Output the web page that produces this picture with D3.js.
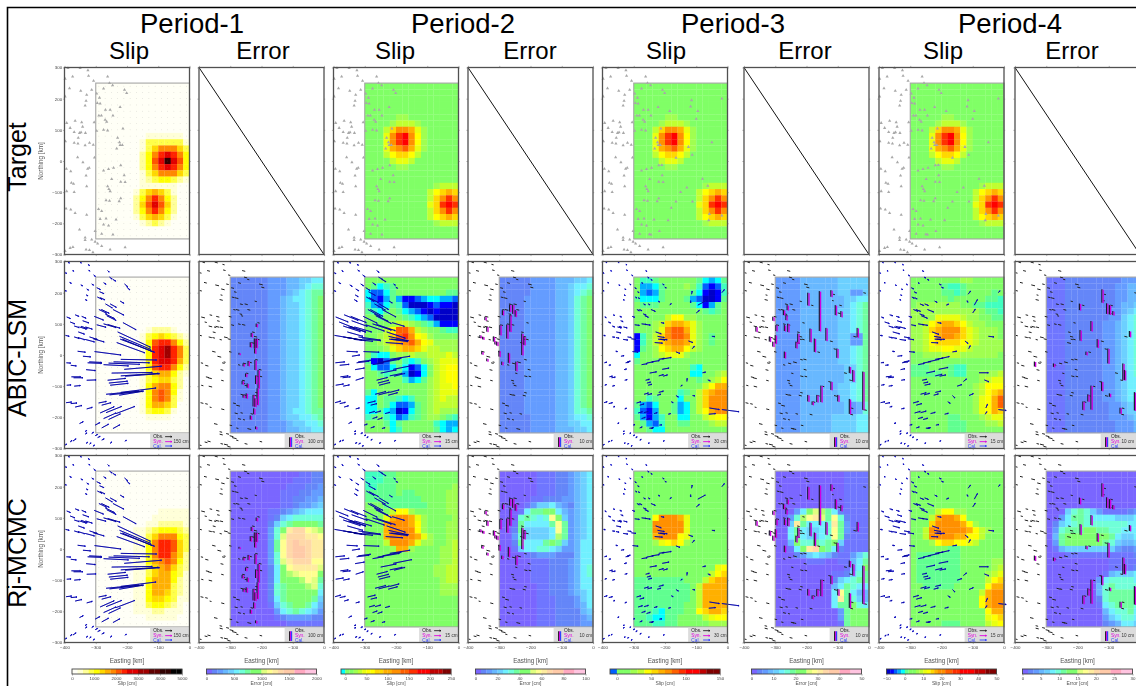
<!DOCTYPE html>
<html><head><meta charset="utf-8">
<script src="https://cdn.jsdelivr.net/npm/d3@7"></script>
<style>html,body{margin:0;padding:0;background:#fff;overflow:hidden}svg{display:block}text{font-family:"Liberation Sans",Arial,sans-serif}</style>
</head><body><svg id="c" width="1136" height="686"></svg>
<script>
// ---------- labels ----------
const periods=["Period-1","Period-2","Period-3","Period-4"];
const rowNames=["Target","ABIC-LSM","Rj-MCMC"];
const slipLegend=["150 cm","15 cm","30 cm","15 cm"];
const errLegend=["100 cm","10 cm","10 cm","10 cm"];
// ---------- colour levels ----------
const slipHotKeys="0123456789ABCDE".split("");
const slipHotCols=["#fffff6","#ffffd8","#ffff98","#ffff48","#ffff00","#ffd800","#ffb000","#ff8800","#ff5500","#ff2200","#e00000","#a00000","#600000","#300000","#000000"];
const rainbowKeys="abcdefghijklmnopqrst".split("");
const rainbowCols=["#0000c8","#0000ff","#0060ff","#00b0ff","#00ffff","#40ffc0","#60ff90","#80ff66","#a0ff50","#c0ff30","#e8ff10","#ffff00","#ffd800","#ffb000","#ff9000","#ff6000","#ff3000","#ff0000","#c00000","#800000"];
const errKeys="0123456789ABCDEFGH".split("");
const errCols=["#7a66ff","#6f76ff","#6486f8","#649cff","#68b8ff","#6cd0ff","#70f0ff","#70ffd8","#70ffa0","#80ff70","#b0ff70","#e0ff80","#ffff90","#ffeca0","#ffd8a8","#ffcaa8","#ffa8c0","#ffc4e0"];
// ---------- slip and error fields: 25 rows (north to south), 15 columns (west to east) ----------
const targetP1="000000000000000 000000000000000 000000000000000 000000000000000 000000000000000 000000000000000 000000000000000 000000000000000 000000001111110 000000013333331 000000013577753 00000002479A974 0000000248ADA84 00000002479A974 000000013577753 000000012344321 000000011111100 000000135653100 000000247974200 000000258A85200 000000247974200 000000135653100 000000012321000 000000000000000 000000000000000".split(" ");
const targetRest="hhhhhhhhhhhhhhh hhhhhhhhhhhhhhh hhhhhhhhhhhhhhh hhhhhhhhhhhhhhh hhhhhhhhhhhhhhh hhhhhiihhhhhhhh hhhhijjjihhhhhh hhhjmoonkihhhhh hhhkoqrolihhhhh hhhkoqrolihhhhh hhhknopnkihhhhh hhhjlmmljhhhhhh hhhhjkkjhhhhhhh hhhhhiihhhhhhhh hhhhhhhhhhhhhhh hhhhhhhhhhhhhhh hhhhhhhhhhhijjj hhhhhhhhhhjlmnm hhhhhhhhhhjmoqo hhhhhhhhhhkmqrq hhhhhhhhhhjmoqo hhhhhhhhhhjlmnm hhhhhhhhhhhijjj hhhhhhhhhhhhhhh hhhhhhhhhhhhhhh".split(" ");
const abicSlipP1="000000000000000 000000000000000 000000000000000 000000000000000 000000000000000 000000000000000 000000000000000 000000000000000 000000001222100 000000013454321 000000014899742 0000000149AB973 0000000149AB973 0000000149AA963 000000014899742 000000013566421 000000013455320 000000014677420 000000014787410 000000014787310 000000014665300 000000013443100 000000001111000 000000000000000 000000000000000".split(" ");
const rjSlipP1="000000000000000 000000000000000 000000000000000 000000000000000 000000000000000 000000000000000 000000000011111 000000000111111 000000001122221 000000112344432 000000113577743 000000114799853 000000114799853 000000114799752 000000114678742 000000113567532 000000113566431 000000114666421 000000114666321 000000114665321 000000114554311 000000113443210 000000111221110 000000001111100 000000000000000".split(" ");
const abicSlipP2="hhhhhhhhhhhhhhh hgefghhhhhhhhhh ecceghhhhhhhhgg ecbdgdbbcdeeddc fdcegfcaaabcbba gfeghgedcbabaaa hhghhhgfedcaaaa hhhhijjihgfdbbb hhhjlppnjihhgff hhijmpqolkihhhh hhijmnopnlkiiii hhhikmnnmkjjiii hfeehiijiijjjkj gbacghfefhijkkk heccegebcehjkll hhgfggdabehjkll hhhhhhfdegijkll hhhhhhhhhhijkkl gehhhhhhhhijkkk eehggfefhhijkjj eehgeccdghijjjj eegedabeghijiii fghfecdfghiihgf hhhgeghhhhhfedd hhhhefhhhhhgede".split(" ");
const rjSlipP2="fffgghhhhhhhhhh fffgghhhhhhhhhh ffggghhhhhhhhhi ggggghgghhhhhii ggggggggghhhhii hhhggggggghhhii hhhhjllihhhhhii hhhknoonkihhhhi hhhnooonlihhhii hhhnoooolihhhii hhhnoooonkihhii hhhjooonkiihhij hhhhinnihhhhiij hhhhhhhhhhhhiij hhhhhhhhhhhhiij hhhhhhhhhhhiijj hhhhhhhhhhhiijj hhhhhhhhhhhhijj hhhhhhhhhhhhiii hhhhhhhhhhhhiii hhhhhhhhhhhhhhh hhhhhhhhhhhhhhh hhhhhhhhhhhhhhh hhhhhhhhhhhhhhh hhhhhhhhhhhhhhh".split(" ");
const abicSlipP3="hffghhhhhhgedeg hddeghhhihfcbcf hdcdghhhhgebabf geeeghhhgdcaabg hggghhhhhgebdgh hhhhhhhhhhhgfgh hhhhhjlliihhhhh hhhijmnnmkihhhh hhhikoppnkihhhh bfhjmoppokihghh bfhjmnoonkihghh bghilmnnljihhhh ehhijkkkihhhhhh ghhhhhhhhhhhhhh hhhhhhhhhfehhhh hhhhhhhhheehhij hhhhhhhhhhghijl hhhhhhhhhhhjlnn hhhhhhhfghjmnoo hhfghhhehhjmooo gdcehhgdehjmooo fcbdhhgdehjlnoo gdbdfhheehhjkll hgdcfhhgghhhijj hhgeehhhhhhhhhh".split(" ");
const rjSlipP3="hhhhhhhhhhhhhhh hhhhhhhhhhhhhhh hhhhhhhhhhhhhhh hhhhhhhhhhhhhhh hhhhhhhhhhhhhhh hhhhhhhhhhhhhhh hhhhhhhhhhhhhhh hhhlooonkhhhhhh hhhoooookhhhhhh hhhoooookhhhhhh hhhnooolkhhhhhh hhhiklmlihhhhhh hhhhhhhhhhhhhhh hhhhhhhhhhhhhhh hhhhhhhhhhhhhhh hhhhhhhhhhhhhkl hhhhhhhhhhhhjlm gggggggghhhjmnn ggggggggghjnnnn ggggggggghjnnnn ggggggggghjnnnn gggggggghhjnnnn gggfeggghhlmnnm ggfeegghhhhjkll gggffgghhhhhiii".split(" ");
const abicSlipP4="hhhhhhhhiihhhhh hhhhhgffghhhhhh hhhhhggfghhhhgh hhhhhhghhhhhggf hiiiiiiihhggfff iiiiiiiiiiihggf iiiikkkkjiihhgg iijlmnnmljiihhh iijmnooomkjiiih iijlnoonmkjiiih iijlmmmmlkjiiii iijkkllkkjiiiii hhiiijjjiiiiiih hhhhhhhhhhhhhhh ggghhhgffhhhhhh ggggghgffhhiiij hhhhhhhhhhhijkk hhhhhhhhhhijlll hhhhhhhhhhijlmn hhhhhhhhhhiklnp hhhhhhhhhhiklnp hhhhhhhhhhiklnm hhhhhhgghhhijkk hhhhhhggghhhiij hhhhhhggghhhhhh".split(" ");
const rjSlipP4="hhhhhhhhhhhhhhh hhhhhhhhhhhhhhh hhhhhhhhhhhhhhh hhhhhhhhhhhhhhh hhhhhhhhhhhhhhh hhhhhhhhhhhhhhh hhhhjlliihhhhhh hhhjnoonlhhhhhh hhhmoooonlihhhh hhjoooooonljihh hhjoooonnlljhhh hhhilmmllkjhhhh hhhhhhgghhhhhhh hggggggghhhhhhh hggggggghhhhhii hggggggghhhhhij hggggggghhhhijk hggggggghhhhjlm hhggggghhhhhlnn hhhhhhhhhhhjnoo hhhhhhhhhhhlnoo hhhhhhhhhhhlnoo hhhhhhhhhhhhlnn hhhhhhhhhhhhklm hhhhhggghhhhjkl".split(" ");
const abicErrP1="222222333445566 222222333445677 222222333456788 222222334566789 222222334556789 222222334556789 222222334556789 222222334556789 222222334556789 222222334556789 222222334556789 222222334556789 222222334556789 222222334556789 222222334556789 222222334556789 222222334556789 222222334556789 222222334556789 222222334556789 222222334556789 222222334566788 222222334556678 222222333455667 222222333445566".split(" ");
const rjErrP1="000000000001122 000000000011122 000000000111223 000000001112233 000000001122334 000000001123345 000000112345666 000000125677777 000000257899998 000000379DEECBA 00000037BEEEDDC 00000038CEFEEDD 00000038CEFFEDD 00000037CEFFEDD 00000037BDEEECC 000000269CDDDDB 000000269ABCCC9 00000026999ACB8 000000278999AB7 000000278999996 000000268999985 000000157899864 000000036787653 000000012333322 000000000111111".split(" ");
const abicErrP2="222223333444556 222223333445667 222223333445678 222233333445789 222233333445789 222233333445789 222233333445789 222233333445789 222233333445789 222233333445789 222233333445789 222233333445789 222233333445789 222233333445789 222233333445789 222233333445789 222233333445789 222233333445789 222233333445789 222233333445789 222233333445789 222233333445778 222223333445667 222223333445566 222223333444556".split(" ");
const rjErrP2="000000111223456 000000111223456 000000111223456 000000111223456 000001122233456 000013556432456 000168899643456 00078767C953456 001866668C83456 002855556C83456 003755556A83456 002866689853466 001566776533466 000012333222466 000001112223466 000001112223467 000001112223467 000001112223466 000000112223466 000000112223456 000000111222356 000000111222346 000000111222245 000000111222234 000000111222233".split(" ");
const abicErrP3="333344444455555 333344444455555 333344444455335 333344444445566 333344444445678 333344444455678 333344444455678 333344444455678 333344444455678 333344444455338 333344444455338 333344444455678 333344444455678 333344444455678 333344444445578 333344444445578 333344444445578 333344444455678 333344444455678 333344444455678 333344444445347 333344444445347 333344444555566 333344444555566 333344444555566".split(" ");
const rjErrP3="000000000001111 000000000001111 000000000001111 000000000001111 000000000001111 000000000001111 000369BA8621111 0037ACDB8C72111 005D86667D83111 006865567C83111 006865567C82111 004977878951111 00169DE98621111 000235654211357 000001110011468 000000000001469 000000000112578 000000000256788 000000000468766 0000000006C8644 0000000006D8754 000000000688976 000000000038999 000000000038999 000000000018999".split(" ");
const abicErrP4="111222222222333 111222222223344 111222222223344 111222222223344 111222222223445 111222222233456 111222222233567 111222222334567 111222222334567 111222222334567 111222222334567 111222222334567 111222222334567 111222222334567 111222222334567 111222222334567 111222222334566 111222222334566 111222222334566 111222222334566 111222222233455 111222222233455 111222222233345 111222222223334 111222222223334".split(" ");
const rjErrP4="000000000000000 000000000000000 000000000000000 000000000000000 000000000000000 000000000000000 000578753111123 003688766665556 025678777777766 037888998877666 048999999986556 038999999875445 014555555553223 000111111111112 000000000011111 000000000011112 000000000145556 000000003677776 000000004787777 000000004788888 000000002788888 000000001678887 000000000467786 000000000356776 000000000234665".split(" ");
// ---------- stations (km) ----------
const stationE=[-389,-350,-325,-398,-374,-323,-262,-307,-384,-348,-313,-256,-246,-275,-208,-201,-398,-329,-297,-288,-331,-334,-295,-286,-222,-269,-254,-290,-282,-270,-265,-245,-393,-366,-345,-305,-382,-369,-342,-347,-333,-352,-356,-397,-369,-357,-320,-334,-308,-230,-224,-222,-215,-233,-275,-262,-213,-297,-358,-304,-394,-380,-341,-326,-321,-331,-275,-259,-243,-220,-209,-249,-378,-371,-329,-262,-258,-220,-206,-393,-369,-254,-220,-267,-256,-225,-395,-380,-366,-329,-291,-281,-235,-267,-286,-275,-259,-352,-302,-281,-245,-334,-334,-313,-302,-294,-281,-382,-373,-398,-331,-320,-309,-254,-206];
const stationN=[298,298,291,264,271,273,271,257,233,225,228,250,243,232,228,218,207,212,216,203,193,178,186,184,173,164,164,146,146,132,126,146,122,129,124,124,106,93,110,92,90,90,74,63,58,56,58,50,52,74,60,51,51,40,100,98,104,97,12,11,-25,-33,-4,-25,-22,-47,-31,-26,-22,-14,-46,-58,-70,-73,-81,-81,-90,-67,-68,-97,-100,-97,-120,-126,-128,-129,-153,-156,-167,-173,-154,-161,-188,-185,-186,-204,-207,-220,-225,-234,-236,-246,-254,-252,-259,-265,-273,-279,-276,-289,-284,-286,-293,-284,-277];
const extraE=[-18,-115,-118,-95,-100,-185,-50,-125,-113,-165,-210,-80,-63,-130,-150,-112,-58,-60,-18,-165,-180,-190,-218,-250];
const extraN=[200,195,175,160,135,160,60,45,20,10,-13,-57,-80,-85,-100,-130,-170,-190,-175,-130,-150,-190,-225,-235];
// ---------- horizontal displacement per period (km on the map) ----------
const p1E=[5,4,5,5,4,4,5,6,6,6,6,8,10,8,10,10,4,6,12,14,6,6,15,15,12,22,20,25,25,30,30,35,12,12,14,30,15,16,20,20,22,22,20,12,16,22,25,30,35,105,100,110,95,90,40,40,42,30,25,85,14,18,25,45,40,30,80,100,115,115,120,130,30,30,30,58,60,120,110,14,20,58,113,105,105,78,18,20,22,18,25,30,60,50,45,40,38,12,15,22,22,5,6,6,8,8,8,6,10,5,5,5,5,5,4];
const p1N=[-3,-3,-4,-2,-2,-4,-5,-5,-3,-3,-4,-6,-6,-5,-9,-9,-2,-4,-6,-6,-3,-3,-7,-7,-7,-13,-11,-12,-12,-15,-15,-18,-5,-5,-6,-12,-6,-5,-7,-7,-7,-7,-7,-3,-5,-7,-8,-8,-10,-49,-42,-42,-40,-33,-12,-12,-23,-8,-3,-11,-1,-2,-2,-2,-2,-3,-4,-4,-3,-2,10,2,0,0,1,6,6,8,8,1,2,6,14,10,12,13,2,2,5,5,5,8,23,20,20,18,18,6,8,12,12,4,4,4,4,4,4,5,7,3,4,4,4,5,4];
const p2E=[5,5,5,6,5,6,8,8,7,8,9,14,14,10,6,6,5,10,14,22,10,10,25,30,10,35,30,40,40,45,50,45,40,45,50,45,50,55,50,50,55,55,50,70,60,60,70,60,60,60,60,60,55,55,60,60,40,60,35,50,30,30,25,40,40,30,35,70,60,65,60,50,25,25,25,35,35,40,35,25,20,35,30,35,35,30,18,18,14,12,25,20,15,18,18,15,15,10,10,12,10,6,6,6,6,5,5,6,5,5,6,6,5,5,5];
const p2N=[-3,-3,-3,-3,-3,-4,-6,-6,-4,-5,-6,-8,-8,-7,-4,-4,-3,-6,-9,-12,-6,-6,-14,-16,-6,-20,-18,-22,-22,-24,-25,-24,-16,-18,-20,-22,-20,-18,-18,-18,-16,-16,-14,-12,-10,-10,-10,-6,-6,-20,-14,-8,-5,-4,-20,-20,-12,-20,-2,-2,3,3,4,5,5,5,6,12,12,10,12,10,3,3,8,9,9,8,9,4,4,9,8,9,9,8,5,4,4,3,6,5,4,5,5,5,5,5,3,4,3,2,2,2,2,2,2,4,3,3,3,3,2,3,3];
const p3E=[3,3,3,3,3,3,4,4,4,4,4,5,5,4,5,5,3,4,5,5,4,4,5,5,5,6,6,8,8,10,12,14,5,5,6,8,8,8,8,8,12,12,15,6,8,10,12,15,15,18,22,22,22,25,15,15,10,15,6,18,8,6,10,10,10,8,18,22,25,18,22,22,10,12,8,12,12,15,14,6,8,12,15,14,14,12,10,12,6,6,14,14,10,14,14,12,12,5,6,8,8,4,4,4,5,5,5,5,4,4,4,4,4,4,4, 8,2,0,24,10,5,10,14,7,13,30,10,8,1,5,8,32,22,55,8,6,8,8,12];
const p3N=[-2,-2,-2,-2,-2,-2,-3,-3,-2,-2,-3,-3,-3,-2,-3,-3,-2,-2,-3,-3,-2,-2,-3,-3,-3,-3,-3,-4,-4,-4,-5,-6,-2,-2,-2,-3,-3,-3,-3,-3,-3,-3,-3,-1,-1,-2,-2,-2,-2,-6,-4,-3,-2,-2,-2,-2,-2,-2,-1,-2,2,1,2,2,2,2,3,4,4,3,4,4,2,2,2,3,3,4,4,2,2,3,4,4,4,3,3,3,2,2,4,4,3,4,4,4,4,2,2,3,3,2,2,2,2,2,2,2,2,2,2,2,2,2,2, 10,10,-8,13,8,5,-1,-5,8,-5,5,2,-3,10,3,-1,-5,2,-7,-5,-3,2,1,1];
const p4E=[3,3,3,3,3,3,5,5,4,4,4,6,6,4,7,7,3,5,8,8,4,4,8,8,8,12,12,15,15,15,20,20,8,10,10,10,15,15,15,15,18,18,22,8,12,14,18,20,20,22,22,22,25,22,18,18,12,15,8,18,10,10,15,18,18,14,20,25,35,25,30,28,18,18,12,15,15,22,20,10,12,18,18,18,18,15,14,15,8,10,18,18,15,18,18,15,15,6,8,10,10,5,5,5,5,5,5,5,5,5,4,4,4,4,4, 5,8,2,10,8,8,18,10,5,14,35,30,15,10,15,14,5,5,25,8,8,12,10,12];
const p4N=[-2,-2,-2,-2,-2,-2,-3,-3,-2,-2,-3,-3,-3,-2,-3,-3,-2,-2,-4,-4,-2,-2,-4,-4,-4,-5,-5,-6,-6,-6,-8,-8,-3,-3,-3,-3,-5,-5,-5,-4,-5,-5,-6,-1,-3,-3,-3,-3,-3,-8,-4,-2,-1,-1,-3,-3,-2,-3,-1,-2,1,1,2,3,3,3,4,5,8,4,6,6,2,2,2,3,3,5,4,2,2,4,4,5,5,4,3,3,2,2,5,5,4,5,5,4,4,2,2,3,3,2,2,2,2,2,2,2,2,2,2,2,2,2,2, 6,10,-6,18,12,3,-2,-8,10,2,8,0,-6,8,5,6,12,8,-3,-8,-5,3,2,1];
// residual horizontal arrows in the error panels (km east)
const residE=[8,10,7,6,9,8,10,7,9,12,8,10,7,9,12,10,7,11,9,8,6,10,8,12,7,9,10,7,11,8,6,9,12,8,10,9,7,11,8,12,10,7,9,6,10,8,12,7,9,8,10,7,9,12,8,10,7,9,11,8,7,10,12,8,6,9,7,10,12,8,9,7,10,12,8,9,6,10,8,7,11,9,8,12,7,10,9,8,6,10,9,12,8,7,10,9,6,11,8,7,12,8,10,9,12,14,7,9,10,6,8,13,10,9,8, 8,6,5,8,9,7,10,9,7,8,10,9,8,6,7,10,8,9,11,7,8,9,8,10];
// vertical displacement bars per period [east, north, length in km]
const barsP1=[[-216,101,11],[-232,71,13],[-222,53,32],[-235,41,16],[-216,53,30],[-221,21,16],[-271,7,6],[-258,-27,9],[-242,-19,16],[-220,-16,32],[-210,-48,59],[-250,-59,11],[-218,-66,27],[-261,-83,11],[-245,-91,14],[-258,-128,9],[-248,-123,16],[-226,-128,37],[-213,-107,53],[-220,-139,27],[-224,-171,19],[-235,-194,13],[-218,-229,9]];
const barsP2=[[-266,162,23],[-256,162,30],[-248,144,21],[-289,144,16],[-265,128,53],[-275,98,45],[-297,96,32],[-227,69,69],[-220,59,27],[-300,14,19],[-270,7,32],[-246,-21,30],[-291,-21,11],[-339,91,16],[-345,123,11],[-352,59,9],[-361,64,9],[-313,45,11],[-307,43,13],[-318,59,16],[-355,11,9],[-339,-11,9]];
const barsP3=[[-195,200,41],[-158,205,128],[-121,208,21],[-107,160,32],[-89,141,19],[-188,85,43],[-137,87,41],[-37,87,30],[-174,53,43],[-227,69,32],[-233,43,21],[-299,64,27],[-270,11,21],[-102,21,30],[-62,-37,21],[-51,-48,37],[-19,-53,123],[-121,-85,27],[-153,-98,53],[-166,-128,23],[-195,-128,21],[-181,-149,11],[-99,-128,21],[-62,-141,48],[-261,160,16],[-273,144,16],[-265,128,16],[-259,101,27],[-270,96,19],[-297,96,19],[-307,123,13],[-361,91,16],[-318,59,16],[-307,43,16]];
const barsP4=[[-121,211,43],[-106,166,34],[-97,160,30],[-86,141,13],[-193,165,21],[-156,109,32],[-191,80,34],[-33,77,19],[-136,51,27],[-102,21,48],[-54,-27,53],[-49,-48,32],[-122,-85,30],[-156,-98,77],[-182,-149,27],[-166,-126,23],[-17,-119,59],[-63,-169,19],[-97,-123,11],[-172,11,11],[-337,-21,16],[-276,-27,11]];
// ---------- colour bars ----------
const barSlipTiles=["0123456789AABBCCDDEE","ehhijkllmmnnooppqqrrrssstt","chhijlmnopqrrstt","abcdeghhijklmnooppqqrrrrsssttt"];
const barSlipDom=[[0,5000],[-10,250],[-10,150],[-10,50]];
const barSlipTicks=[[0,1000,2000,3000,4000,5000],[0,50,100,150,200,250],[0,50,100,150],[-10,0,10,20,30,40,50]];
const barErrTiles="0234567899BCDEFFGGHH";
const barErrDom=[[0,2000],[0,100],[0,50],[0,30]];
const barErrTicks=[[0,500,1000,1500,2000],[0,20,40,60,80,100],[0,10,20,30,40,50],[0,5,10,15,20,25,30]];
// ---------- layout ----------
const svg=d3.select("#c");
const slipX=[64.5,333.5,602.5,879], errX=[199,468,744,1015], rowY=[67.5,261.5,455.5];
const W=125,H=187;
const xS=d3.scaleLinear().domain([-400,0]).range([0,W]);
const yS=d3.scaleLinear().domain([300,-300]).range([0,H]);
const hot=d3.scaleOrdinal(slipHotKeys,slipHotCols), rainbow=d3.scaleOrdinal(rainbowKeys,rainbowCols), errC=d3.scaleOrdinal(errKeys,errCols);
const slipFields=[[targetP1,abicSlipP1,rjSlipP1],[targetRest,abicSlipP2,rjSlipP2],[targetRest,abicSlipP3,rjSlipP3],[targetRest,abicSlipP4,rjSlipP4]];
const errFields=[[null,abicErrP1,rjErrP1],[null,abicErrP2,rjErrP2],[null,abicErrP3,rjErrP3],[null,abicErrP4,rjErrP4]];
const vecE=[p1E,p2E,p3E,p4E], vecN=[p1N,p2N,p3N,p4N], bars=[barsP1,barsP2,barsP3,barsP4];
const allE=stationE.concat(extraE), allN=stationN.concat(extraN);
function stationsFor(p){return (p<2?stationE:allE).map((e,i)=>({e,n:allN[i],i}));}
// ---------- titles ----------
const titles=svg.append("g").attr("text-anchor","middle").attr("fill","#000");
[192,463,733,1010].forEach((x,i)=>titles.append("text").attr("x",x).attr("y",33).attr("font-size",27.5).text(periods[i]));
[129,395,666,943].forEach(x=>titles.append("text").attr("x",x).attr("y",59).attr("font-size",24).text("Slip"));
[263,530,805,1072].forEach(x=>titles.append("text").attr("x",x).attr("y",59).attr("font-size",24).text("Error"));
[157,358,553].forEach((y,i)=>titles.append("text").attr("transform",`translate(26,${y}) rotate(-90)`).attr("font-size",25).text(rowNames[i]));
svg.append("path").attr("d","M1136,7.5H7.5V686").attr("fill","none").attr("stroke","#000").attr("stroke-width",1.6);
// ---------- helpers ----------
const plot=svg.append("g").style("filter","blur(0.5px)");
function field(g,rows,col){
  rows.forEach((row,r)=>row.split("").forEach((ch,c)=>{
    g.append("rect").attr("x",xS(-300+20*c)).attr("y",yS(250-20*r))
      .attr("width",xS(20)-xS(0)+0.2).attr("height",yS(-20)-yS(0)+0.2).attr("fill",col(ch));
  }));
  g.append("rect").attr("x",xS(-300)).attr("y",yS(250)).attr("width",xS(0)-xS(-300)).attr("height",yS(-250)-yS(250))
    .attr("fill","none").attr("stroke","#a6a6a6").attr("stroke-width",1.1);
}
function frame(g){
  g.append("rect").attr("width",W).attr("height",H).attr("fill","none").attr("stroke","#505050").attr("stroke-width",1.3);
}
function axes(g,leftLabels,bottomLabels,lastPanel){
  const xt=d3.range(-400,1,100), yt=d3.range(-300,301,100);
  const blank=()=>"";
  const xFmt=v=>(lastPanel&&v===0)?"":d3.format("d")(v);
  const style=a=>{a.selectAll("path").remove();a.selectAll("line").attr("stroke","#666").attr("stroke-width",.5);a.selectAll("text").attr("font-size",4.4).attr("fill","#444").attr("font-family","Liberation Sans");};
  g.append("g").call(d3.axisTop(xS).tickValues(xt).tickSize(1.6).tickFormat(blank)).call(style);
  g.append("g").attr("transform",`translate(0,${H})`).call(d3.axisBottom(xS).tickValues(xt).tickSize(1.6).tickPadding(1.5).tickFormat(bottomLabels?xFmt:blank)).call(style);
  g.append("g").call(d3.axisLeft(yS).tickValues(yt).tickSize(1.6).tickPadding(.8).tickFormat(leftLabels?d3.format("d"):blank)).call(style);
  g.append("g").attr("transform",`translate(${W},0)`).call(d3.axisRight(yS).tickValues(yt).tickSize(1.2).tickFormat(blank)).call(style);
}
function arrow(g,x0,y0,x1,y1,col,w,head){
  const a=Math.atan2(y1-y0,x1-x0),h=head;
  g.append("path").attr("d",`M${x0},${y0}L${x1},${y1}M${x1-h*Math.cos(a-.4)},${y1-h*Math.sin(a-.4)}L${x1},${y1}L${x1-h*Math.cos(a+.4)},${y1-h*Math.sin(a+.4)}`)
    .attr("fill","none").attr("stroke",col).attr("stroke-width",w);
}
function legend(g,isErr,label,labelE){
  g.append("rect").attr("x",xS(-126)).attr("y",yS(-253)).attr("width",xS(0)-xS(-126)).attr("height",yS(-299)-yS(-253)).attr("fill","#dcdcdc");
  const tx=isErr?-93:-116, ns=[-262,-278,-292], names=["Obs.","Syn.","Cal."], cols=["#222","#e000e0","#3040ff"];
  names.forEach((t,i)=>g.append("text").attr("x",xS(tx)).attr("y",yS(ns[i])+1.7).attr("font-size",4.8).attr("fill",cols[i]).text(t));
  g.append("text").attr("x",xS(labelE)).attr("y",yS(-278)+1.7).attr("text-anchor","end").attr("font-size",4.6).attr("fill","#333").text(label);
  if(isErr){
    [["#222",-112],["#e000e0",-109],["#3040ff",-106]].forEach(([c,e])=>g.append("rect").attr("x",xS(e)).attr("y",yS(-264)).attr("width",1.3).attr("height",yS(-295)-yS(-264)).attr("fill",c));
  } else {
    ns.forEach((n,i)=>arrow(g,xS(-78),yS(n),xS(-56),yS(n),cols[i],.9,1.6));
  }
}
// ---------- panels ----------
periods.forEach((_,p)=>{
  rowY.forEach((ry,r)=>{
    // slip panel
    const g=plot.append("g").attr("transform",`translate(${slipX[p]},${ry})`);
    field(g,slipFields[p][r],p===0?hot:rainbow);
    if(p===0){
      d3.range(-290,0,20).forEach(e=>d3.range(-240,250,20).forEach(n=>g.append("circle").attr("cx",xS(e)).attr("cy",yS(n)).attr("r",.35).attr("fill","#999").attr("opacity",.6)));
    }
    const sts=stationsFor(p);
    if(r===0){
      const tri=d3.symbol().type(d3.symbolTriangle).size(4.5);
      sts.forEach(s=>g.append("path").attr("d",tri()).attr("transform",`translate(${xS(s.e)},${yS(s.n)})`).attr("fill","#a8a8a8"));
    } else {
      sts.forEach(s=>arrow(g,xS(s.e),yS(s.n),xS(s.e+vecE[p][s.i]),yS(s.n+vecN[p][s.i]),"#1010e0",.95,1.2));
      sts.forEach(s=>g.append("line").attr("x1",xS(s.e)).attr("y1",yS(s.n)).attr("x2",xS(s.e+vecE[p][s.i])).attr("y2",yS(s.n+vecN[p][s.i])).attr("stroke","#000060").attr("stroke-width",.45));
      legend(g,false,slipLegend[p],-3);
    }
    frame(g); axes(g,p===0,r===2,false);
    // error panel
    const h=plot.append("g").attr("transform",`translate(${errX[p]},${ry})`);
    if(r===0){
      h.append("line").attr("x1",0).attr("y1",0).attr("x2",W).attr("y2",H).attr("stroke","#111").attr("stroke-width",1);
    } else {
      field(h,errFields[p][r],errC);
      sts.forEach(s=>h.append("line").attr("x1",xS(s.e)).attr("y1",yS(s.n)).attr("x2",xS(s.e+residE[s.i])).attr("y2",yS(s.n-residE[s.i]*.25)).attr("stroke","#222").attr("stroke-width",1));
      bars[p].forEach(b=>{
        h.append("rect").attr("x",xS(b[0])-.9).attr("y",yS(b[1])).attr("width",1.2).attr("height",yS(-b[2])-yS(0)).attr("fill","#1a1a30");
        h.append("rect").attr("x",xS(b[0])+.3).attr("y",yS(b[1])+.5).attr("width",1.3).attr("height",yS(-b[2])-yS(0)).attr("fill","#d000e0");
      });
      legend(h,true,errLegend[p],p===3?-19:-3);
    }
    frame(h); axes(h,false,r===2,p===3);
  });
});
// axis titles
const at=svg.append("g").attr("fill","#555").attr("text-anchor","middle").attr("font-size",6.3).style("filter","blur(0.3px)");
rowY.forEach(ry=>at.append("text").attr("transform",`translate(43,${ry+H/2}) rotate(-90)`).text("Northing [km]"));
slipX.concat(errX).forEach(x=>at.append("text").attr("x",x+W/2).attr("y",663).text("Easting [km]"));
// ---------- colour bars ----------
function colorBar(x0,tiles,col,dom,ticks,title){
  const g=plot.append("g").attr("transform",`translate(${x0+7.5},669)`);
  const s=d3.scaleLinear().domain(dom).range([0,110]);
  const n=tiles.length, step=(dom[1]-dom[0])/n;
  tiles.split("").forEach((ch,i)=>g.append("rect").attr("x",s(dom[0]+i*step)).attr("y",0).attr("width",110/n+.2).attr("height",5).attr("fill",col(ch)));
  g.append("rect").attr("width",110).attr("height",5).attr("fill","none").attr("stroke","#444").attr("stroke-width",.9);
  const ax=g.append("g").attr("transform","translate(0,5)").call(d3.axisBottom(s).tickValues(ticks).tickSize(1.6).tickPadding(1.6).tickFormat(d3.format("d")));
  ax.selectAll("path").remove(); ax.selectAll("line").attr("stroke","#666").attr("stroke-width",.5);
  ax.selectAll("text").attr("font-size",4.4).attr("fill","#444").attr("font-family","Liberation Sans");
  g.append("text").attr("x",55).attr("y",15.5).attr("text-anchor","middle").attr("font-size",5).attr("fill","#555").text(title);
}
periods.forEach((_,p)=>{
  colorBar(slipX[p],barSlipTiles[p],p===0?hot:rainbow,barSlipDom[p],barSlipTicks[p],"Slip [cm]");
  colorBar(errX[p],barErrTiles,errC,barErrDom[p],barErrTicks[p],"Error [cm]");
});
</script></body></html>
